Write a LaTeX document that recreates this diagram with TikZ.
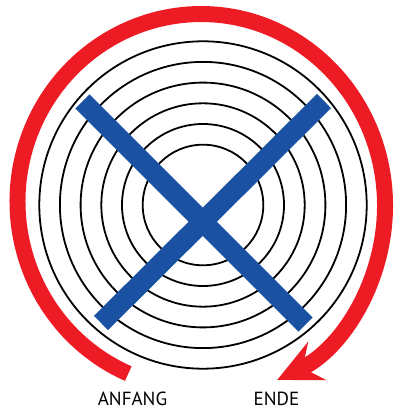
\documentclass[tikz,border=0pt]{standalone}
\usepackage{fontspec}
\setmainfont{PT Sans}
\usepackage{tikz}
\usetikzlibrary{arrows.meta}
\definecolor{ringred}{HTML}{ED1C24}
\definecolor{crossblue}{HTML}{1A51A2}
\tikzset{
  ring/.style={draw=black,line width=1.8pt},
  crossbar/.style={draw=crossblue,line width=20pt,line cap=butt},
  turn/.style={draw=ringred,line width=16pt,-{Stealth[length=44pt,width=42pt,inset=16pt]}},
  lbl/.style={font=\fontsize{19}{19}\selectfont,anchor=base,inner sep=0pt}}

\begin{document}
\begin{tikzpicture}[x=1pt,y=1pt]
  \useasboundingbox (0,0) rectangle (393,409);
  \coordinate (c) at (203,204);
  \foreach \r in {60.3,81,101.7,122.4,143.1,163.7}
    \draw[ring] (c) circle[radius=\r pt];
  \coordinate (tl) at (82.5,307.5);
  \coordinate (br) at (305.5,84.5);
  \coordinate (tr) at (324,308);
  \coordinate (bl) at (101,86);
  \draw[crossbar] (tl) -- (br);
  \draw[crossbar] (tr) -- (bl);
  \coordinate (from) at (128.3,35.4);
  \draw[turn] (from) arc[start angle=246.6,end angle=90,x radius=183.75pt,y radius=187.5pt]
    arc[start angle=90,end angle=-65.6,x radius=183.75pt,y radius=191.5pt];
  \node[lbl] (anfang) at (132.5,4) {ANFANG};
  \node[lbl] (ende) at (276.5,4) {ENDE};
\end{tikzpicture}
\end{document}
